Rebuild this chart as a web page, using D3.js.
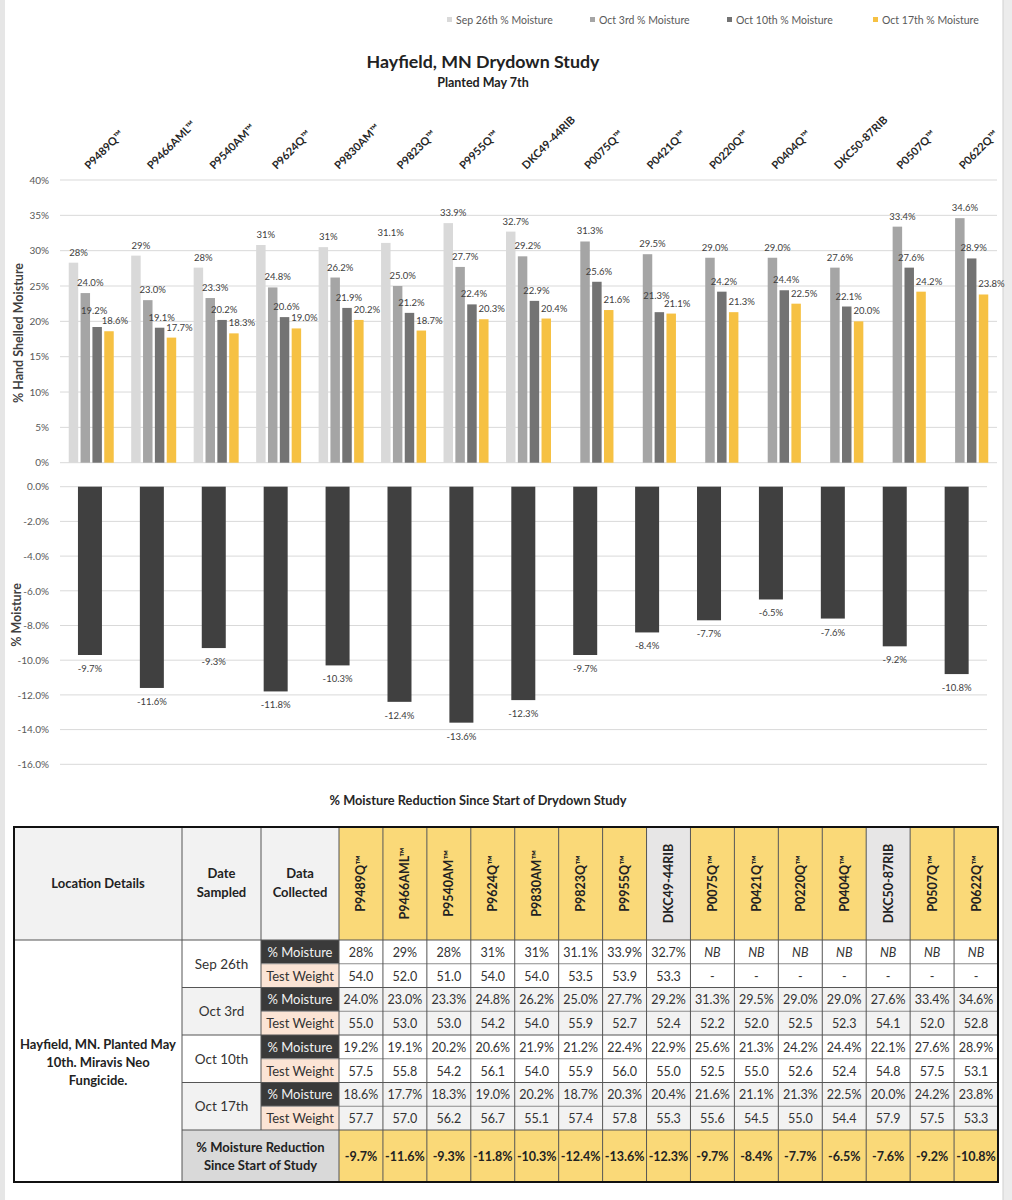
<!DOCTYPE html>
<html><head><meta charset="utf-8">
<script src="https://cdn.jsdelivr.net/npm/d3@7"></script>
<style>body{margin:0;background:#fff;} svg{display:block;font-family:Lato,"Open Sans",sans-serif;}</style>
</head><body><svg id="c" width="1012" height="1200"></svg>
<script>
const categories = ["P9489Q™","P9466AML™","P9540AM™","P9624Q™","P9830AM™","P9823Q™","P9955Q™","DKC49-44RIB","P0075Q™","P0421Q™","P0220Q™","P0404Q™","DKC50-87RIB","P0507Q™","P0622Q™"];
const seriesNames = ["Sep 26th % Moisture","Oct 3rd % Moisture","Oct 10th % Moisture","Oct 17th % Moisture"];
const dates = ["Sep 26th","Oct 3rd","Oct 10th","Oct 17th"];
const sep26 = [28.3,29.3,27.6,30.8,30.5,31.1,33.9,32.7,null,null,null,null,null,null,null];
const sep26Text = ["28%","29%","28%","31%","31%","31.1%","33.9%","32.7%","NB","NB","NB","NB","NB","NB","NB"];
const oct3 = [24.0,23.0,23.3,24.8,26.2,25.0,27.7,29.2,31.3,29.5,29.0,29.0,27.6,33.4,34.6];
const oct10 = [19.2,19.1,20.2,20.6,21.9,21.2,22.4,22.9,25.6,21.3,24.2,24.4,22.1,27.6,28.9];
const oct17 = [18.6,17.7,18.3,19.0,20.2,18.7,20.3,20.4,21.6,21.1,21.3,22.5,20.0,24.2,23.8];
const reduction = [-9.7,-11.6,-9.3,-11.8,-10.3,-12.4,-13.6,-12.3,-9.7,-8.4,-7.7,-6.5,-7.6,-9.2,-10.8];
const twSep26 = [54.0,52.0,51.0,54.0,54.0,53.5,53.9,53.3,null,null,null,null,null,null,null];
const twOct3 = [55.0,53.0,53.0,54.2,54.0,55.9,52.7,52.4,52.2,52.0,52.5,52.3,54.1,52.0,52.8];
const twOct10 = [57.5,55.8,54.2,56.1,54.0,55.9,56.0,55.0,52.5,55.0,52.6,52.4,54.8,57.5,53.1];
const twOct17 = [57.7,57.0,56.2,56.7,55.1,57.4,57.8,55.3,55.6,54.5,55.0,54.4,57.9,57.5,53.3];
const topTicks = [0,5,10,15,20,25,30,35,40];
const bottomTicks = [0,-2,-4,-6,-8,-10,-12,-14,-16];

const colors = ["#d9d9d9","#a5a5a5","#737373","#f6c143"];
const f1 = v => d3.format(".1f")(v).replace("−","-");
const pct1 = v => f1(v) + "%";

const svg = d3.select("#c");
// page edges
svg.append("rect").attr("x",0).attr("y",0).attr("width",5).attr("height",1200).attr("fill","#e6e6e6");
svg.append("rect").attr("x",1003).attr("y",0).attr("width",9).attr("height",1200).attr("fill","#ececec");
svg.append("line").attr("x1",1003).attr("x2",1003).attr("y1",0).attr("y2",1200).attr("stroke","#cfcfcf");

// legend
const legX = [447,590,727,873];
const leg = svg.append("g");
seriesNames.forEach((s,i)=>{
  leg.append("rect").attr("x",legX[i]).attr("y",17).attr("width",5).attr("height",5).attr("fill",colors[i]);
  leg.append("text").attr("x",legX[i]+9).attr("y",23.5).attr("font-size",10.5).attr("fill","#595959").text(s);
});

// titles
svg.append("text").attr("x",483).attr("y",68).attr("text-anchor","middle").attr("font-size",17.8).attr("font-weight","bold").attr("fill","#222").text("Hayfield, MN Drydown Study");
svg.append("text").attr("x",483).attr("y",87).attr("text-anchor","middle").attr("font-size",12.5).attr("font-weight","bold").attr("fill","#222").text("Planted May 7th");

// ---------- top chart ----------
const xTop = d3.scaleBand().domain(categories).range([60,997]);
const yTop = d3.scaleLinear().domain([0,40]).range([462.7,180]);
const xInner = d3.scaleBand().domain(d3.range(4)).range([-22.5,22.5]).paddingInner(0.2);
const gTop = svg.append("g");
gTop.selectAll("line.g").data(topTicks).join("line")
  .attr("x1",60).attr("x2",997).attr("y1",d=>yTop(d)).attr("y2",d=>yTop(d))
  .attr("stroke","#d9d9d9").attr("stroke-width",1);
const yAxisTop = d3.axisLeft(yTop).tickValues(topTicks).tickFormat(d=>d+"%").tickSize(0).tickPadding(0);
const ya = svg.append("g").attr("transform","translate(49,0)").call(yAxisTop);
ya.select(".domain").remove();
ya.selectAll("text").attr("font-size",10).attr("fill","#595959").attr("font-family","Lato");

svg.append("text").attr("transform","translate(23,333) rotate(-90)").attr("text-anchor","middle")
  .attr("font-size",12.5).attr("font-weight","bold").attr("fill","#404040").text("% Hand Shelled Moisture");

// category labels
svg.selectAll("text.cat").data(categories).join("text").attr("class","cat")
  .attr("transform",d=>`translate(${xTop(d)+xTop.bandwidth()/2-2},170) rotate(-45)`)
  .attr("font-size",11).attr("font-weight","bold").attr("fill","#262626").text(d=>d);

const seriesVals = [sep26,oct3,oct10,oct17];
const labelDx = [5,5,2,8];
seriesVals.forEach((arr,si)=>{
  const data = categories.map((c,i)=>({c,v:arr[i],i})).filter(d=>d.v!=null);
  gTop.selectAll(null).data(data).join("rect")
    .attr("x",d=>xTop(d.c)+xTop.bandwidth()/2+xInner(si))
    .attr("width",xInner.bandwidth())
    .attr("y",d=>yTop(d.v)).attr("height",d=>yTop(0)-yTop(d.v))
    .attr("fill",colors[si]);
  // when the Oct 10th and Oct 17th labels would collide, nudge them apart
  const close = d => Math.abs(oct10[d.i]-oct17[d.i]) < 1.2;
  const dx = d => labelDx[si] + (close(d) ? (si===2 ? -5 : si===3 ? -2 : 0) : 0);
  const dy = d => (si===2 && close(d)) ? -6 : 0;
  gTop.selectAll(null).data(data).join("text")
    .attr("x",d=>xTop(d.c)+xTop.bandwidth()/2+xInner(si)+xInner.bandwidth()/2+dx(d))
    .attr("y",d=>yTop(d.v)-7+dy(d))
    .attr("text-anchor","middle").attr("font-size",9.5).attr("fill","#404040")
    .text(d=> si===0 ? sep26Text[d.i] : pct1(d.v));
});

// ---------- bottom chart ----------
const xBot = d3.scaleBand().domain(categories).range([59,987.6]);
const yBot = d3.scaleLinear().domain([-16,0]).range([764.3,486.7]);
const gBot = svg.append("g");
gBot.selectAll("line").data(bottomTicks).join("line")
  .attr("x1",60).attr("x2",987).attr("y1",d=>yBot(d)).attr("y2",d=>yBot(d))
  .attr("stroke","#d9d9d9");
const yb = svg.append("g").attr("transform","translate(49,0)")
  .call(d3.axisLeft(yBot).tickValues(bottomTicks).tickFormat(d=>pct1(d)).tickSize(0).tickPadding(0));
yb.select(".domain").remove();
yb.selectAll("text").attr("font-size",10).attr("fill","#595959").attr("font-family","Lato");
const rdata = categories.map((c,i)=>({c,v:reduction[i]}));
gBot.selectAll("rect").data(rdata).join("rect")
  .attr("x",d=>xBot(d.c)+xBot.bandwidth()/2-12).attr("width",24)
  .attr("y",yBot(0)).attr("height",d=>yBot(d.v)-yBot(0)).attr("fill","#404040");
gBot.selectAll("text").data(rdata).join("text")
  .attr("x",d=>xBot(d.c)+xBot.bandwidth()/2).attr("y",d=>yBot(d.v)+17)
  .attr("text-anchor","middle").attr("font-size",9.5).attr("fill","#404040").text(d=>pct1(d.v));
svg.append("text").attr("transform","translate(21,615) rotate(-90)").attr("text-anchor","middle")
  .attr("font-size",12.5).attr("font-weight","bold").attr("fill","#404040").text("% Moisture");
svg.append("text").attr("x",478).attr("y",805).attr("text-anchor","middle")
  .attr("font-size",12.8).attr("font-weight","bold").attr("fill","#262626").text("% Moisture Reduction Since Start of Drydown Study");

// ---------- table ----------
const T = {x0:14,x1:182,x2:261,x3:339,x4:998,y0:827,y1:940,y2:1130,y3:1182};
const xCol = d3.scaleBand().domain(categories).range([T.x3,T.x4]);
const rowH = (T.y2-T.y1)/8;
const tb = svg.append("g");
const line = (x1,y1,x2,y2,c="#7f7f7f",w=1)=>tb.append("line").attr("x1",x1).attr("y1",y1).attr("x2",x2).attr("y2",y2).attr("stroke",c).attr("stroke-width",w);
const cell = (x,y,w,h,fill)=>tb.append("rect").attr("x",x).attr("y",y).attr("width",w).attr("height",h).attr("fill",fill);
const txt = (x,y,s,opt={})=>tb.append("text").attr("x",x).attr("y",y).attr("text-anchor","middle")
  .attr("font-size",opt.size||12.5).attr("font-weight",opt.bold?"bold":"normal").attr("font-style",opt.italic?"italic":"normal")
  .attr("fill",opt.fill||"#222").text(s);

// header backgrounds
cell(T.x0,T.y0,T.x3-T.x0,T.y1-T.y0,"#f2f2f2");
categories.forEach(c=>cell(xCol(c),T.y0,xCol.bandwidth(),T.y1-T.y0, c.startsWith("DKC")?"#e7e6e6":"#fad978"));
txt((T.x0+T.x1)/2,888,"Location Details",{bold:true,size:13});
txt((T.x1+T.x2)/2,878,"Date",{bold:true,size:13});
txt((T.x1+T.x2)/2,897,"Sampled",{bold:true,size:13});
txt((T.x2+T.x3)/2,878,"Data",{bold:true,size:13});
txt((T.x2+T.x3)/2,897,"Collected",{bold:true,size:13});
categories.forEach(c=>{
  tb.append("text").attr("transform",`translate(${xCol(c)+xCol.bandwidth()/2+4.5},${(T.y0+T.y1)/2}) rotate(-90)`)
    .attr("text-anchor","middle").attr("font-size",12.5).attr("font-weight","bold").attr("fill","#222").text(c);
});

// body
const moist = [sep26Text, oct3.map(pct1), oct10.map(pct1), oct17.map(pct1)];
const tw = [twSep26,twOct3,twOct10,twOct17];
cell(T.x0,T.y1,T.x1-T.x0,T.y3-T.y1,"#ffffff");
dates.forEach((d,di)=>{
  const yA = T.y1+di*2*rowH, yB = yA+rowH;
  const bg = di%2===1 ? "#f2f2f2" : "#ffffff";
  cell(T.x1,yA,T.x2-T.x1,2*rowH,bg);
  cell(T.x3,yA,T.x4-T.x3,2*rowH,bg);
  cell(T.x2,yA,T.x3-T.x2,rowH,"#3a3a3a");
  cell(T.x2,yB,T.x3-T.x2,rowH,"#fbe4d5");
  txt((T.x1+T.x2)/2,yA+rowH+5,d,{size:13.5,fill:"#333"});
  txt((T.x2+T.x3)/2,yA+rowH/2+5,"% Moisture",{size:13,fill:"#f2f2f2"});
  txt((T.x2+T.x3)/2,yB+rowH/2+5,"Test Weight",{size:13,fill:"#333"});
  categories.forEach((c,i)=>{
    const cx = xCol(c)+xCol.bandwidth()/2;
    const m = moist[di][i];
    txt(cx,yA+rowH/2+5,m,{size:12.5,italic:m==="NB",fill:"#333"});
    const w = tw[di][i];
    txt(cx,yB+rowH/2+5,w==null?"-":f1(w),{size:12.5,fill:"#333"});
  });
});
// final row
cell(T.x1,T.y2,T.x3-T.x1,T.y3-T.y2,"#d9d9d9");
cell(T.x3,T.y2,T.x4-T.x3,T.y3-T.y2,"#fad978");
txt((T.x1+T.x3)/2,T.y2+22,"% Moisture Reduction",{bold:true,size:13});
txt((T.x1+T.x3)/2,T.y2+40,"Since Start of Study",{bold:true,size:13});
categories.forEach((c,i)=>txt(xCol(c)+xCol.bandwidth()/2,T.y2+31,pct1(reduction[i]),{bold:true,size:12.5}));
const loc = ["Hayfield, MN. Planted May","10th. Miravis Neo","Fungicide."];
loc.forEach((s,i)=>txt((T.x0+T.x1)/2,1049+i*18,s,{bold:true,size:13}));

// grid lines
line(T.x0,T.y1,T.x4,T.y1,"#555");
for(let r=1;r<8;r++){
  const y=T.y1+r*rowH;
  line(r%2===0?T.x1:T.x2,y,T.x4,y,r%2===0?"#555":"#8c8c8c");
}
line(T.x1,T.y2,T.x4,T.y2,"#555");
[T.x1,T.x2,T.x3].forEach((x,k)=>line(x,T.y0,x,k===1?T.y2:T.y3,"#555"));
categories.forEach((c,i)=>{ if(i>0) line(xCol(c),T.y0,xCol(c),T.y3,"#555"); });
tb.append("rect").attr("x",T.x0).attr("y",T.y0).attr("width",T.x4-T.x0).attr("height",T.y3-T.y0)
  .attr("fill","none").attr("stroke","#111").attr("stroke-width",2);
</script></body></html>
